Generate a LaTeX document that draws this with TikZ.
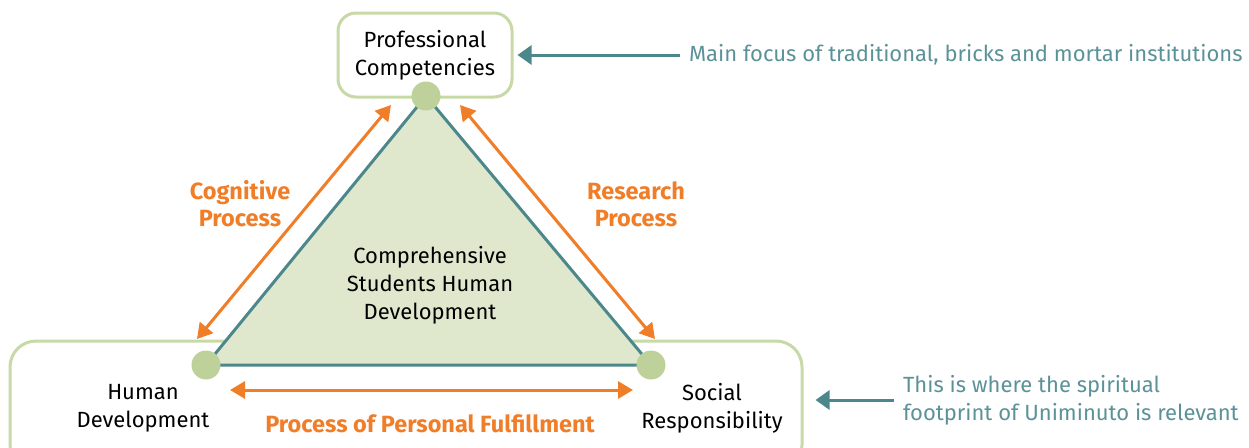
\documentclass[tikz,border=0pt]{standalone}
\usepackage{fontspec}
\setmainfont{Fira Sans}
\usepackage{tikz}
\usetikzlibrary{shapes,arrows.meta,positioning,calc}
\definecolor{flow}{HTML}{F07D28}
\definecolor{edgeteal}{HTML}{4C878C}
\definecolor{noteteal}{HTML}{5B9298}
\definecolor{trifill}{HTML}{DFE7CD}
\definecolor{dotfill}{HTML}{BFD19A}
\definecolor{boxline}{HTML}{C6D9A6}

\begin{document}
\begin{tikzpicture}[
    x=1pt, y=-1pt,
    every node/.style={font=\fontsize{22}{28}\selectfont, align=center},
    area/.style={draw=boxline, line width=3pt, rounded corners=18pt},
    dot/.style={circle, fill=dotfill, minimum size=29pt, inner sep=0pt},
    flowlabel/.style={text=flow, font=\fontsize{23.5}{27}\selectfont\bfseries},
    note/.style={text=noteteal, align=left, anchor=west},
    flowarrow/.style={{Triangle[length=15pt,width=17pt]}-{Triangle[length=15pt,width=17pt]}, draw=flow, line width=3pt},
    pointer/.style={-{Triangle[length=14pt,width=19pt]}, draw=edgeteal, line width=3pt}
]
    \useasboundingbox (0,0) rectangle (1249,447);
    \clip (0,0) rectangle (1249,447);

    % Boxes
    \node[area, minimum width=174pt, minimum height=84pt] (pcbox) at (425,55) {Professional\\Competencies};
    \node[area, rounded corners=26pt, minimum width=792pt, minimum height=130pt] (hsbox) at (406,406) {};

    % Triangle
    \coordinate (top) at (426,96);
    \coordinate (left) at (206,365);
    \coordinate (right) at (651,365);
    \filldraw[fill=trifill, draw=edgeteal, line width=3pt, line join=round] (top) -- (left) -- (right) -- cycle;
    \node[dot] (pcdot) at (top) {};
    \node[dot] (hddot) at (left) {};
    \node[dot] (srdot) at (right) {};
    \node (core) at (430,285) {Comprehensive\\Students Human\\Development};

    % Corners
    \node (hd) at (143,408) {Human\\Development};
    \node (sr) at (712,408) {Social\\Responsibility};

    % Processes
    \coordinate (cgA) at (391,105);
    \coordinate (cgB) at (197,339);
    \coordinate (rsA) at (460,105);
    \coordinate (rsB) at (655,339);
    \coordinate (pfA) at (230,390);
    \coordinate (pfB) at (633,390);
    \draw[flowarrow] (cgA) -- (cgB);
    \draw[flowarrow] (rsA) -- (rsB);
    \draw[flowarrow] (pfA) -- (pfB);
    \node[flowlabel] (cg) at (240,204) {Cognitive\\Process};
    \node[flowlabel] (rs) at (636,204) {Research\\Process};
    \node[flowlabel] (pf) at (430,424) {Process of Personal Fulfillment};

    % Notes
    \node[note, right=172pt of pcbox] (focus) {Main focus of traditional, bricks and mortar institutions};
    \node[note, right=96pt of hsbox, yshift=6pt] (spirit) {This is where the spiritual\\footprint of Uniminuto is relevant};
    \draw[pointer, shorten <=6pt, shorten >=4pt] (focus.west) -- (focus.west -| pcbox.east);
    \draw[pointer, shorten <=6pt, shorten >=12pt] (spirit.west) -- (spirit.west -| hsbox.east);
\end{tikzpicture}
\end{document}
